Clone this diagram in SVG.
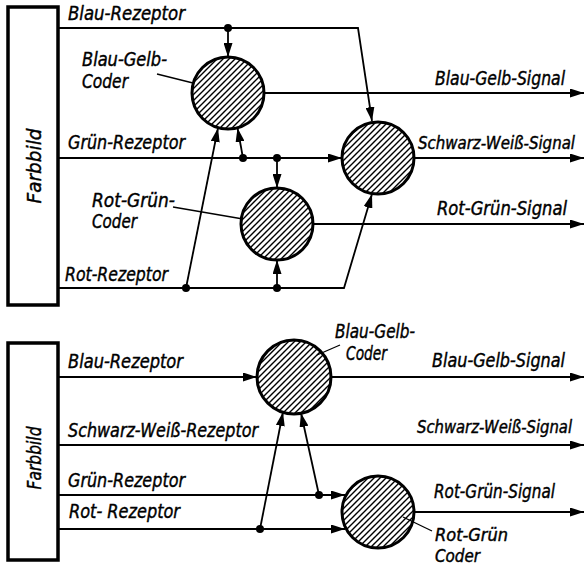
<svg xmlns="http://www.w3.org/2000/svg" width="585" height="565" viewBox="0 0 585 565">
<defs>
<pattern id="hatch" patternUnits="userSpaceOnUse" width="6" height="6">
<path d="M-1,1 L1,-1 M0,6 L6,0 M5,7 L7,5" stroke="#000" stroke-width="1.4"/>
</pattern>
<marker id="ah" markerWidth="14" markerHeight="9" refX="14" refY="4.5" orient="auto" markerUnits="userSpaceOnUse">
<path d="M0,0 L14,4.5 L0,9 z" fill="#000"/>
</marker>
</defs>
<style>
.box{fill:#fff;stroke:#000;stroke-width:3.5}
.coder{fill:url(#hatch);stroke:#000;stroke-width:3}
.ar{fill:none;stroke:#000;stroke-width:1.8;marker-end:url(#ah)}
.dot{fill:#000}
.lead{stroke:#000;stroke-width:1.3}
text{font-family:"DejaVu Sans Condensed","DejaVu Sans",sans-serif;font-style:italic;font-weight:normal;font-size:19px;fill:#000;stroke:#000;stroke-width:0.4}
.sm{font-size:17px}
</style>
<rect width="585" height="565" fill="#fff"/>

<g id="connectors">
<polyline class="ar" points="58,28 358,28 372,121"/>
<line class="ar" x1="228" y1="28" x2="228" y2="57"/>
<line class="ar" x1="264" y1="93" x2="584" y2="93"/>
<line class="ar" x1="58" y1="158" x2="342" y2="158"/>
<line class="ar" x1="243" y1="158" x2="237.5" y2="128"/>
<line class="ar" x1="186" y1="288" x2="218" y2="128"/>
<line class="ar" x1="277" y1="158" x2="277" y2="188"/>
<line class="ar" x1="277" y1="288" x2="277" y2="260"/>
<polyline class="ar" points="58,288 344,288 372,194"/>
<line class="ar" x1="414" y1="158" x2="584" y2="158"/>
<line class="ar" x1="313" y1="224" x2="584" y2="224"/>
<circle class="dot" cx="228" cy="28" r="4"/>
<circle class="dot" cx="243" cy="158" r="4"/>
<circle class="dot" cx="277" cy="158" r="4"/>
<circle class="dot" cx="186" cy="288" r="4"/>
<circle class="dot" cx="277" cy="288" r="4"/>
<line class="ar" x1="58" y1="377" x2="257" y2="377"/>
<line class="ar" x1="331" y1="377" x2="584" y2="377"/>
<line class="ar" x1="58" y1="445" x2="584" y2="445"/>
<line class="ar" x1="58" y1="495" x2="345" y2="495"/>
<line class="ar" x1="58" y1="529" x2="345" y2="529"/>
<line class="ar" x1="319" y1="495" x2="301" y2="413"/>
<line class="ar" x1="260" y1="529" x2="283" y2="412"/>
<line class="ar" x1="414" y1="512" x2="584" y2="512"/>
<circle class="dot" cx="319" cy="495" r="4"/>
<circle class="dot" cx="260" cy="529" r="4"/>
</g>

<g id="farbbild-top">
<rect class="box" x="8" y="7" width="50" height="298"/>
<text transform="translate(41,166) rotate(-90)" text-anchor="middle" textLength="75" lengthAdjust="spacingAndGlyphs">Farbbild</text>
</g>
<g id="blau-gelb-coder-top">
<circle class="coder" cx="228" cy="93" r="36"/>
<line class="lead" x1="157" y1="74" x2="193" y2="83"/>
<text x="82" y="66" textLength="85" lengthAdjust="spacingAndGlyphs">Blau-Gelb-</text>
<text x="82" y="88" textLength="46" lengthAdjust="spacingAndGlyphs">Coder</text>
</g>
<g id="rot-gruen-coder-top">
<circle class="coder" cx="277" cy="224" r="36"/>
<line class="lead" x1="173" y1="207" x2="243" y2="219"/>
<text x="92" y="207" textLength="83" lengthAdjust="spacingAndGlyphs">Rot-Grün-</text>
<text x="92" y="228" textLength="45" lengthAdjust="spacingAndGlyphs">Coder</text>
</g>
<g id="schwarz-weiss-top">
<circle class="coder" cx="378" cy="158" r="36"/>
</g>

<g id="labels-top">
<text x="68" y="20" textLength="117" lengthAdjust="spacingAndGlyphs">Blau-Rezeptor</text>
<text x="68" y="149" textLength="117" lengthAdjust="spacingAndGlyphs">Grün-Rezeptor</text>
<text x="65" y="281" textLength="103" lengthAdjust="spacingAndGlyphs">Rot-Rezeptor</text>
<text x="435" y="85" textLength="130" lengthAdjust="spacingAndGlyphs">Blau-Gelb-Signal</text>
<text class="sm" x="418" y="149" textLength="157" lengthAdjust="spacingAndGlyphs">Schwarz-Weiß-Signal</text>
<text x="437" y="215" textLength="130" lengthAdjust="spacingAndGlyphs">Rot-Grün-Signal</text>
</g>

<g id="farbbild-bottom">
<rect class="box" x="8" y="343" width="50" height="217"/>
<text transform="translate(41,458) rotate(-90)" text-anchor="middle" textLength="63" lengthAdjust="spacingAndGlyphs">Farbbild</text>
</g>
<g id="blau-gelb-coder-bottom">
<circle class="coder" cx="294" cy="377" r="37"/>
<line class="lead" x1="340" y1="345" x2="317" y2="355"/>
<text x="335" y="338" textLength="80" lengthAdjust="spacingAndGlyphs">Blau-Gelb-</text>
<text x="346" y="360" textLength="41" lengthAdjust="spacingAndGlyphs">Coder</text>
</g>
<g id="rot-gruen-coder-bottom">
<circle class="coder" cx="378" cy="512" r="36"/>
<line class="lead" x1="432" y1="531" x2="403" y2="517"/>
<text class="sm" x="435" y="541" textLength="73" lengthAdjust="spacingAndGlyphs">Rot-Grün</text>
<text class="sm" x="435" y="562" textLength="45" lengthAdjust="spacingAndGlyphs">Coder</text>
</g>

<g id="labels-bottom">
<text x="68" y="368" textLength="115" lengthAdjust="spacingAndGlyphs">Blau-Rezeptor</text>
<text x="68" y="437" textLength="190" lengthAdjust="spacingAndGlyphs">Schwarz-Weiß-Rezeptor</text>
<text x="68" y="487" textLength="117" lengthAdjust="spacingAndGlyphs">Grün-Rezeptor</text>
<text x="69" y="518" textLength="111" lengthAdjust="spacingAndGlyphs">Rot- Rezeptor</text>
<text x="432" y="367" textLength="133" lengthAdjust="spacingAndGlyphs">Blau-Gelb-Signal</text>
<text class="sm" x="417" y="433" textLength="155" lengthAdjust="spacingAndGlyphs">Schwarz-Weiß-Signal</text>
<text x="434" y="498" textLength="121" lengthAdjust="spacingAndGlyphs">Rot-Grün-Signal</text>
</g>
</svg>
